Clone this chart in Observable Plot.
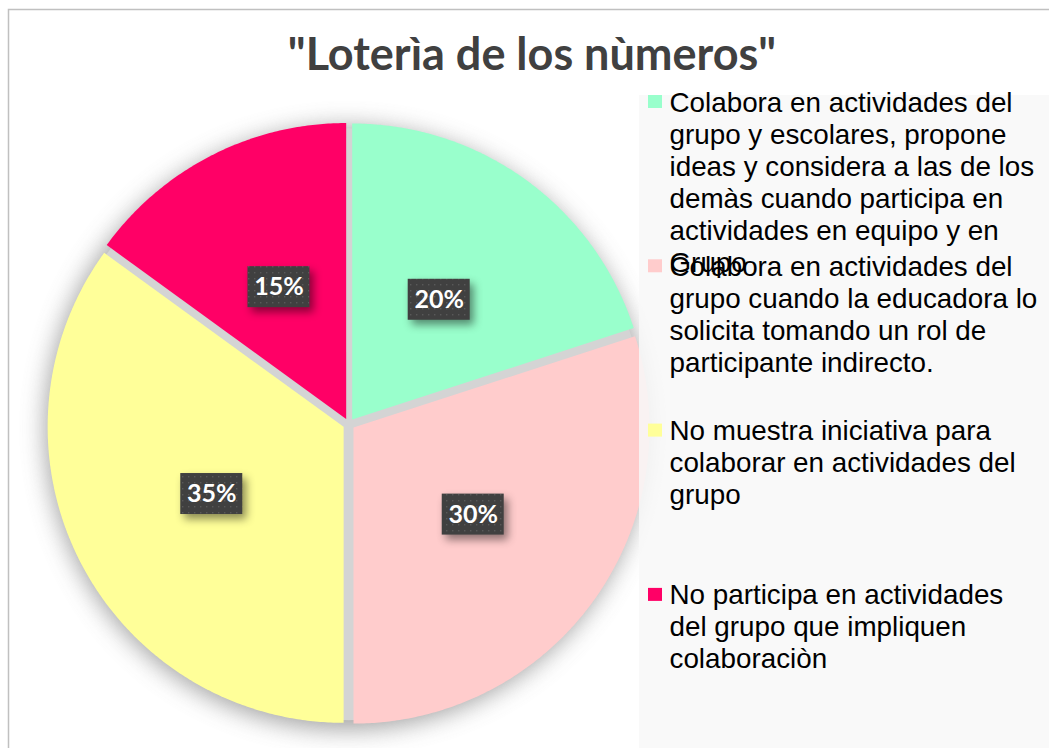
<!DOCTYPE html>
<html><head><meta charset="utf-8">
<script src="https://cdn.jsdelivr.net/npm/d3@7"></script>
<script src="https://cdn.jsdelivr.net/npm/@observablehq/plot@0.6"></script>
<style>body{margin:0;background:#fff;overflow:hidden}</style>
</head><body><div id="chart"></div>
<script>
// ---- data ----
const categories = [
  "Colabora en actividades del grupo y escolares, propone ideas y considera a las de los demàs cuando participa en actividades en equipo y en Grupo",
  "Colabora en actividades del grupo cuando la educadora lo solicita tomando un rol de participante indirecto.",
  "No muestra iniciativa para colaborar en actividades del grupo",
  "No participa en actividades del grupo que impliquen colaboraciòn"
];
const values = [20, 30, 35, 15];
const labels = ["20%", "30%", "35%", "15%"];
const colors = ["#99FFCC", "#FFCCCC", "#FFFF99", "#FF0066"];
const title = "\"Loterìa de los nùmeros\"";

// ---- layout ----
const W = 1049, H = 748;
const cx = 348.3, cy = 423.7, R = 296, explode = 5.8;
const labelDist = R / 2 + explode;
const total = d3.sum(values);
let acc = 0;
const slices = categories.map((c, i) => {
  const a0 = acc / total * 2 * Math.PI; acc += values[i];
  const a1 = acc / total * 2 * Math.PI;
  const mid = (a0 + a1) / 2;
  return {c, a0, a1, mid, label: labels[i],
    ox: explode * Math.sin(mid), oy: -explode * Math.cos(mid),
    lx: cx + labelDist * Math.sin(mid), ly: cy - labelDist * Math.cos(mid)};
});
const piePts = [];
for (const s of slices) {
  const sx = cx + s.ox, sy = cy + s.oy;
  piePts.push({c: s.c, x: sx, y: sy});
  const n = Math.ceil((s.a1 - s.a0) / Math.PI * 360);
  for (let k = 0; k <= n; k++) {
    const a = s.a0 + (s.a1 - s.a0) * k / n;
    piePts.push({c: s.c, x: sx + R * Math.sin(a), y: sy - R * Math.cos(a)});
  }
  piePts.push({c: s.c, x: sx, y: sy});
}

// legend wrapping
const legendFont = "27.8px 'Liberation Sans', Arial, sans-serif";
const ctx = document.createElement("canvas").getContext("2d");
ctx.font = legendFont;
function wrap(t, maxW) {
  const words = t.split(" "), lines = []; let cur = "";
  for (const w of words) {
    const test = cur ? cur + " " + w : w;
    if (cur && ctx.measureText(test).width > maxW) { lines.push(cur); cur = w; } else cur = test;
  }
  if (cur) lines.push(cur);
  return lines;
}
const legX = 669, legTop = 111, legStep = 164.3, lineH = 32;
const legendItems = categories.map((c, i) => ({c, base: legTop + i * legStep}));
const legendLines = [];
categories.forEach((c, i) => {
  wrap(c, 374).forEach((t, j) => legendLines.push({c, t, y: legTop + i * legStep + j * lineH}));
});

const plot = Plot.plot({
  width: W, height: H, margin: 0,
  style: {background: "#fff", overflow: "hidden"},
  x: {domain: [0, W], range: [0, W], axis: null},
  y: {domain: [0, H], range: [0, H], axis: null},
  color: {domain: categories, range: colors},
  marks: [
    Plot.dot([0], {x: () => cx - 2, y: () => cy + 4, r: R + 5, fill: "#8a8a8a", stroke: "none"}),
    Plot.dot([0], {x: () => cx, y: () => cy, r: R, fill: "#d4d4d4", stroke: "none"}),
    Plot.line(piePts, {x: "x", y: "y", z: "c", fill: "c", stroke: "none", curve: "linear"}),
    Plot.rect(slices, {x1: d => d.lx - 31, x2: d => d.lx + 31, y1: d => d.ly - 20.5, y2: d => d.ly + 20.5, fill: "url(#dots)"}),
    Plot.text(slices, {x: "lx", y: "ly", text: "label", fill: "#fff", fontSize: 25, fontWeight: "bold", fontFamily: "Lato, 'Open Sans', sans-serif"}),
    Plot.rect([0], {x1: 639, x2: 1100, y1: 95, y2: 800, fill: "#f8f8f8", fillOpacity: 0.86}),
    Plot.rect(legendItems, {x1: 648, x2: 662, y1: d => d.base - 16, y2: d => d.base - 3, fill: "c"}),
    Plot.text(legendLines, {x: () => legX, y: "y", text: "t", textAnchor: "start", lineAnchor: "bottom", fill: "#000", fontSize: 27.8, fontFamily: "'Liberation Sans', Arial, sans-serif"}),
    Plot.text([title], {x: () => 531.5, y: () => 69, text: d => d, lineAnchor: "bottom", fill: "#404040", fontSize: 45, fontWeight: "bold", fontFamily: "Lato, sans-serif"}),
    Plot.rect([0], {x1: 8.5, x2: 1200, y1: 9.5, y2: 900, fill: "none", stroke: "#c0c0c0", strokeWidth: 1.5})
  ]
});

const defs = document.createElementNS("http://www.w3.org/2000/svg", "defs");
defs.innerHTML = '<pattern id="dots" width="6" height="6" patternUnits="userSpaceOnUse"><rect width="6" height="6" fill="#404040"/><rect x="2" y="2" width="1.4" height="1.4" fill="#595959"/></pattern>';
plot.insertBefore(defs, plot.firstChild);
const dots = plot.querySelectorAll("g[aria-label='dot']");
dots[0].style.filter = "blur(12px)";
dots[0].style.opacity = "0.8";
const rects = plot.querySelectorAll("g[aria-label='rect']");
rects[0].style.filter = "drop-shadow(4px 5px 4px rgba(0,0,0,0.45))";
document.getElementById("chart").appendChild(plot);
</script>
</body></html>
